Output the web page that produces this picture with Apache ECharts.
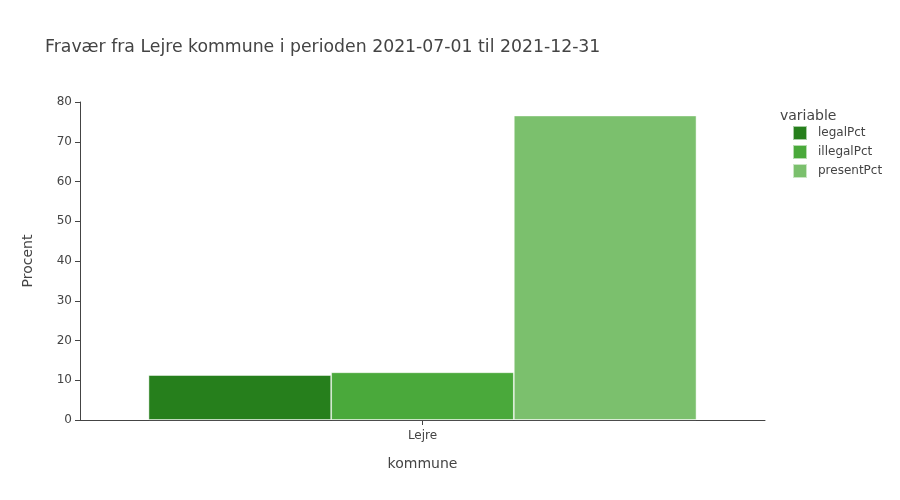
<!DOCTYPE html>
<html><head><meta charset="utf-8">
<script src="https://cdn.jsdelivr.net/npm/echarts@6/dist/echarts.min.js"></script>
<style>html,body{margin:0;padding:0;background:#fff}#c{width:900px;height:500px}</style>
</head><body><div id="c"></div>
<script>
var categories = ['Lejre'];
var seriesNames = ['legalPct', 'illegalPct', 'presentPct'];
var legalPct = [11.3];
var illegalPct = [12.0];
var presentPct = [76.6];
var yTicks = [0, 10, 20, 30, 40, 50, 60, 70, 80];
var colors = ['#267f1c', '#4aa93b', '#7bc06d'];
var values = [legalPct, illegalPct, presentPct];
var font = '"DejaVu Sans", verdana, arial, sans-serif';

var chart = echarts.init(document.getElementById('c'), null, {renderer: 'canvas'});
chart.setOption({
  animation: false,
  textStyle: {fontFamily: font},
  title: [
    {text: 'Fravær fra Lejre kommune i perioden 2021-07-01 til 2021-12-31', left: 40, top: 34,
     textStyle: {fontFamily: font, fontSize: 17.3, fontWeight: 'normal', color: '#444'}},
    {text: 'variable', left: 775, top: 104,
     textStyle: {fontFamily: font, fontSize: 14, fontWeight: 'normal', color: '#444'}}
  ],
  legend: {
    orient: 'vertical', left: 787, top: 120, itemWidth: 14, itemHeight: 14, itemGap: 3,
    icon: 'rect', data: seriesNames,
    textStyle: {fontFamily: font, fontSize: 12, color: '#444', padding: [0, 0, 0, 6]}
  },
  grid: {left: 80, right: 135, top: 102, bottom: 80, containLabel: false},
  xAxis: {
    type: 'category', data: categories,
    name: 'kommune', nameLocation: 'middle', nameGap: 37,
    nameTextStyle: {fontFamily: font, fontSize: 14, color: '#444'},
    axisLine: {lineStyle: {color: '#444', width: 1}},
    axisTick: {show: true, alignWithLabel: true, length: 5, lineStyle: {color: '#444'}},
    axisLabel: {fontFamily: font, fontSize: 12, color: '#444', margin: 10}
  },
  yAxis: {
    type: 'value', min: yTicks[0], max: yTicks[yTicks.length - 1], interval: 10,
    name: 'Procent', nameLocation: 'middle', nameGap: 45, nameRotate: 90,
    nameTextStyle: {fontFamily: font, fontSize: 14, color: '#444'},
    axisLine: {show: true, lineStyle: {color: '#444', width: 1}},
    axisTick: {show: true, length: 5, lineStyle: {color: '#444'}},
    splitLine: {show: false},
    axisLabel: {fontFamily: font, fontSize: 12, color: '#444', margin: 8}
  },
  series: seriesNames.map(function (n, i) {
    return {
      name: n, type: 'bar', data: values[i], barGap: '0%', barCategoryGap: '20%',
      itemStyle: {color: colors[i], borderColor: 'rgba(255,255,255,0.6)', borderWidth: 0.8}
    };
  })
});
</script></body></html>
